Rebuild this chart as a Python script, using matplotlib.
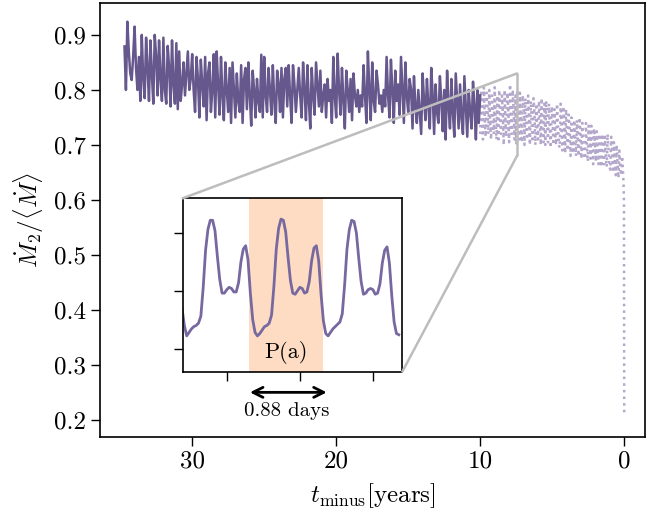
import numpy as np
import matplotlib
matplotlib.use("Agg")
import matplotlib.pyplot as plt
from matplotlib.patches import ConnectionPatch, Rectangle

plt.rcParams['font.family'] = ['cmr10', 'DejaVu Serif']
plt.rcParams['mathtext.fontset'] = 'cm'
plt.rcParams['axes.unicode_minus'] = False
plt.rcParams['axes.formatter.use_mathtext'] = True

# ---------------- data ----------------
# early phase (solid), t_minus from 34.7 to 10.0 years
solid_t_range = (34.7, 10.0)
solid_vals = [
    0.879, 0.80, 0.924, 0.87, 0.83, 0.818, 0.86, 0.915, 0.84, 0.80, 0.86,
    0.78, 0.90, 0.82, 0.785, 0.895, 0.84, 0.78, 0.89, 0.83, 0.775, 0.90, 0.86, 0.79, 0.89, 0.82, 0.78,
    0.895, 0.80, 0.775, 0.88, 0.84, 0.77, 0.89, 0.81, 0.775, 0.885, 0.765, 0.87, 0.78,
    0.81, 0.85, 0.79, 0.83, 0.87, 0.80, 0.82,
    0.865, 0.80, 0.76, 0.86, 0.82, 0.75, 0.855, 0.81, 0.77, 0.86, 0.745, 0.83, 0.85, 0.76, 0.80, 0.865,
    0.75, 0.87, 0.81, 0.755, 0.86, 0.79, 0.745, 0.85, 0.80, 0.76, 0.84,
    0.74, 0.85, 0.80, 0.75, 0.83, 0.78, 0.76, 0.845, 0.74, 0.82, 0.84, 0.765, 0.85, 0.79, 0.735, 0.835,
    0.80, 0.75, 0.82, 0.78, 0.76, 0.864,
    0.75, 0.86, 0.79, 0.76, 0.84, 0.80, 0.755, 0.845, 0.78, 0.74, 0.835, 0.81, 0.76, 0.84, 0.75, 0.82,
    0.84, 0.77, 0.845, 0.79, 0.74, 0.845, 0.81, 0.76, 0.80, 0.84, 0.79,
    0.75, 0.85, 0.80, 0.745, 0.845, 0.78, 0.73, 0.84, 0.79, 0.755, 0.85, 0.81, 0.77, 0.835, 0.76, 0.79,
    0.81, 0.75, 0.82, 0.78, 0.80,
    0.74, 0.86, 0.79, 0.75, 0.866, 0.80, 0.755, 0.84, 0.78, 0.73, 0.835, 0.80, 0.76, 0.82, 0.745, 0.83,
    0.79, 0.77, 0.80, 0.76, 0.79,
    0.77, 0.845, 0.79, 0.74, 0.87, 0.80, 0.745, 0.85, 0.78, 0.76, 0.835, 0.81, 0.775, 0.79, 0.76, 0.80, 0.77,
    0.86, 0.79, 0.75, 0.855, 0.80, 0.74, 0.835, 0.78, 0.81, 0.755, 0.86, 0.80, 0.74, 0.85, 0.79, 0.76, 0.82,
    0.80, 0.73, 0.825, 0.77, 0.74, 0.80, 0.76, 0.72, 0.83, 0.78, 0.745, 0.82, 0.77, 0.73, 0.84, 0.79,
    0.72, 0.81, 0.76, 0.74, 0.825, 0.78, 0.725, 0.80,
    0.71, 0.835, 0.77, 0.73, 0.82, 0.76, 0.715, 0.83, 0.78, 0.73, 0.81, 0.75, 0.72, 0.825, 0.77, 0.715,
    0.80, 0.76, 0.73, 0.815, 0.77, 0.71, 0.80, 0.74, 0.79,
]

# late phase (dotted), t_minus from 10.0 to 0.15 years
dotted_t_range = (10.0, 0.15)
dotted_vals = [
    0.72, 0.80, 0.76, 0.71, 0.805, 0.75, 0.715, 0.795, 0.77, 0.72, 0.80, 0.74, 0.71, 0.79, 0.76, 0.72,
    0.805, 0.75, 0.71, 0.79,
    0.705, 0.80, 0.75, 0.72, 0.79, 0.76, 0.70, 0.80, 0.74, 0.715, 0.795, 0.77, 0.705, 0.81, 0.75, 0.72,
    0.80, 0.76, 0.71, 0.79,
    0.70, 0.80, 0.75, 0.71, 0.795, 0.74, 0.705, 0.79, 0.76, 0.70, 0.785, 0.73, 0.71, 0.79, 0.75, 0.70,
    0.78, 0.74, 0.705, 0.785, 0.76, 0.70, 0.775, 0.73, 0.71, 0.78, 0.75, 0.70, 0.785, 0.74, 0.705, 0.775,
    0.70, 0.78, 0.74, 0.705, 0.775, 0.73, 0.695, 0.77, 0.75, 0.70, 0.765, 0.72, 0.70, 0.775, 0.74, 0.70,
    0.695, 0.775, 0.73, 0.69, 0.77, 0.74, 0.685, 0.765, 0.72, 0.69, 0.755, 0.73, 0.68, 0.75, 0.71, 0.685,
    0.745, 0.72, 0.68, 0.745, 0.71, 0.68, 0.75, 0.72, 0.675, 0.74, 0.70, 0.68,
    0.675, 0.74, 0.70, 0.67, 0.735, 0.71, 0.675, 0.735, 0.69, 0.665, 0.73, 0.70, 0.67, 0.725, 0.69, 0.665,
    0.72, 0.70, 0.66, 0.72, 0.69, 0.665, 0.715, 0.68, 0.66, 0.72, 0.69, 0.66,
    0.655, 0.715, 0.68, 0.65, 0.705, 0.67, 0.645, 0.70, 0.665, 0.64, 0.69, 0.66, 0.645, 0.68,
]
tail_t = [0.10, 0.05, 0.02, 0.0]
tail_vals = [0.66, 0.63, 0.60, 0.21]

# zoomed inset: ~3 orbital periods (days)
inset_period = 0.88            # days
inset_t0 = -0.0087
inset_dt = 0.02935
inset_vals = [
    0.735, 0.720,
    0.711, 0.714, 0.717, 0.719, 0.720, 0.722, 0.728, 0.753, 0.785, 0.803,
    0.811, 0.811, 0.802, 0.780, 0.760, 0.748, 0.748, 0.751, 0.753, 0.752,
    0.749, 0.749, 0.757, 0.775, 0.786, 0.789, 0.777, 0.748, 0.725, 0.714,
    0.711, 0.713, 0.716, 0.719, 0.720, 0.722, 0.729, 0.754, 0.786, 0.804,
    0.812, 0.811, 0.801, 0.779, 0.759, 0.748, 0.747, 0.750, 0.753, 0.752,
    0.748, 0.749, 0.758, 0.776, 0.787, 0.789, 0.776, 0.747, 0.724, 0.713,
    0.711, 0.714, 0.717, 0.719, 0.721, 0.723, 0.730, 0.755, 0.786, 0.803,
    0.811, 0.810, 0.800, 0.778, 0.758, 0.747, 0.748, 0.751, 0.752, 0.751,
    0.747, 0.748, 0.756, 0.774, 0.785, 0.788, 0.774, 0.746, 0.723, 0.713,
    0.712,
]
span_days = (0.830, 1.743)
zoom_t = 7.45
zoom_ylim = (0.68, 0.83)

x_ticks = [30, 20, 10, 0]
y_ticks = [0.2, 0.3, 0.4, 0.5, 0.6, 0.7, 0.8, 0.9]

# ---------------- plot ----------------
c_dark = '#66578c'
c_light = '#b3a8cb'
c_inset = '#7768a0'
c_gray = '#bdbdbd'

fig = plt.figure(figsize=(6.49, 5.22), dpi=100)
ax = fig.add_axes([0.1541, 0.1634, 0.8397, 0.8309])

t_solid = np.linspace(solid_t_range[0], solid_t_range[1], len(solid_vals))
t_dot = np.concatenate([np.linspace(dotted_t_range[0], dotted_t_range[1], len(dotted_vals)), tail_t])
v_dot = np.concatenate([dotted_vals, tail_vals])

ax.plot(t_dot, v_dot, ls=':', lw=1.8, color=c_light, zorder=2)
ax.plot(t_solid, solid_vals, ls='-', lw=1.8, color=c_dark, zorder=3)

ax.set_xlim(36.4, -1.44)
ax.set_ylim(0.170, 0.958)
ax.set_xticks(x_ticks)
ax.set_yticks(y_ticks)
ax.set_xticklabels([str(v) for v in x_ticks])
ax.set_yticklabels([f"{v:.1f}" for v in y_ticks])
ax.tick_params(labelsize=18, length=6.5, width=1.0, direction='out')
for s in ax.spines.values():
    s.set_linewidth(1.2)
ax.set_xlabel(r'$t_{\rm minus}[{\rm years}]$', fontsize=18, labelpad=6)
ax.set_ylabel(r'$\dot{M}_2/\langle\dot{M}\rangle$', fontsize=18, labelpad=6)

# zoom marker rectangle
ax.add_patch(Rectangle((zoom_t, zoom_ylim[0]), 0.02, zoom_ylim[1] - zoom_ylim[0],
                       fill=False, edgecolor=c_gray, lw=1.8, zorder=5))

# inset
axin = fig.add_axes([0.2815, 0.2879, 0.3384, 0.3322])
t_in = inset_t0 + inset_dt * np.arange(len(inset_vals))
axin.axvspan(span_days[0], span_days[1], color='#fddcc3', lw=0, zorder=0)
axin.plot(t_in, inset_vals, color=c_inset, lw=2.0, zorder=2)
axin.set_xlim(0, 2.735)
axin.set_ylim(zoom_ylim)
axin.set_xticks([0.548, 1.461, 2.374])
axin.set_yticks([0.70, 0.75, 0.80])
axin.set_xticklabels([])
axin.set_yticklabels([])
axin.tick_params(length=6.5, width=1.0, direction='out')
for s in axin.spines.values():
    s.set_linewidth(1.2)
axin.text(0.5 * (span_days[0] + span_days[1]), 0.11, 'P(a)', transform=axin.get_xaxis_transform(),
          ha='center', va='center', fontsize=16)
axin.annotate('', xy=(0.656, -0.119), xytext=(0.306, -0.119), xycoords='axes fraction',
              textcoords='axes fraction', annotation_clip=False,
              arrowprops=dict(arrowstyle='<->', lw=2.0, color='k', mutation_scale=18,
                              shrinkA=0, shrinkB=0))
axin.text(0.475, -0.225, f'{inset_period} days', transform=axin.transAxes,
          ha='center', va='center', fontsize=15)

# connector lines
for (xa, ya), yb in [((0, 1), zoom_ylim[1]), ((1, 0), zoom_ylim[0])]:
    con = ConnectionPatch(xyA=(xa, ya), coordsA=axin.transAxes,
                          xyB=(zoom_t, yb), coordsB=ax.transData,
                          color=c_gray, lw=1.8, zorder=6)
    fig.add_artist(con)

fig.savefig('out.png', dpi=100)
